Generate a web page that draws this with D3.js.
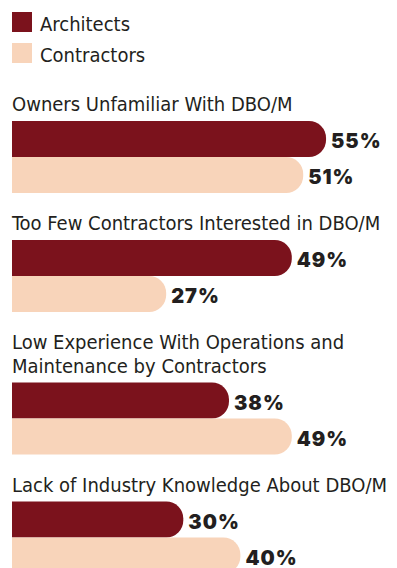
<!DOCTYPE html>
<html>
<head>
<meta charset="utf-8">
<script src="https://cdn.jsdelivr.net/npm/d3@7"></script>
<style>
  html, body { margin: 0; padding: 0; background: #fff; }
  svg { display: block; }
  .title { font-family: "DejaVu Sans Condensed", "Liberation Sans Narrow", sans-serif; font-size: 20px; fill: #231f20; }
  .legend text { font-family: "DejaVu Sans Condensed", "Liberation Sans Narrow", sans-serif; font-size: 20px; fill: #231f20; }
  .value { font-family: "Inter", "Roboto", sans-serif; font-weight: 900; font-size: 20px; letter-spacing: 1px; fill: #231f20; }
</style>
</head>
<body>
<svg id="chart" width="397" height="568"></svg>
<script>
// Survey items (title lines) and shares by respondent group
const categories = [
  ["Owners Unfamiliar With DBO/M"],
  ["Too Few Contractors Interested in DBO/M"],
  ["Low Experience With Operations and", "Maintenance by Contractors"],
  ["Lack of Industry Knowledge About DBO/M"]
];
const series = ["Architects", "Contractors"];
const architects = [55, 49, 38, 30];
const contractors = [51, 27, 49, 40];
const colors = ["#7b121c", "#f8d4ba"];

const svg = d3.select("#chart");
const left = 12;

const x = d3.scaleLinear().domain([0, 100]).range([left, left + 571]);
const band = d3.scaleBand().domain(series).range([0, 72]).padding(0);
const color = d3.scaleOrdinal().domain(series).range(colors);

// Legend
const legend = svg.append("g").attr("class", "legend");
series.forEach((s, i) => {
  const g = legend.append("g").attr("transform", `translate(${left},${12 + i * 31})`);
  g.append("rect").attr("width", 20).attr("height", 20).attr("fill", color(s));
  g.append("text").attr("x", 28).attr("y", 18.5).text(s);
});

// Bar with square left end and rounded right end
function barPath(x0, y0, w, h, r) {
  r = Math.min(r, w, h / 2);
  return `M${x0},${y0}H${x0 + w - r}A${r},${r} 0 0 1 ${x0 + w},${y0 + r}` +
         `V${y0 + h - r}A${r},${r} 0 0 1 ${x0 + w - r},${y0 + h}H${x0}Z`;
}

const lineH = 23.5;
let yCursor = 111; // baseline of first title
categories.forEach((lines, i) => {
  const g = svg.append("g");
  const t = g.append("text").attr("class", "title").attr("x", left);
  lines.forEach((ln, j) => {
    t.append("tspan").attr("x", left).attr("y", yCursor + j * lineH).text(ln);
  });
  const barTop = yCursor + (lines.length - 1) * lineH + 10;
  const vals = [architects[i], contractors[i]];
  series.forEach((s, k) => {
    const y0 = barTop + band(s);
    const w = x(vals[k]) - x(0);
    g.append("path")
      .attr("d", barPath(x(0), y0, w, band.bandwidth(), 17))
      .attr("fill", color(s));
    g.append("text").attr("class", "value")
      .attr("x", x(vals[k]) + 5)
      .attr("y", y0 + band.bandwidth() / 2 + 9)
      .text(vals[k] + "%");
  });
  yCursor = barTop + 72 + 37;
});
</script>
</body>
</html>
